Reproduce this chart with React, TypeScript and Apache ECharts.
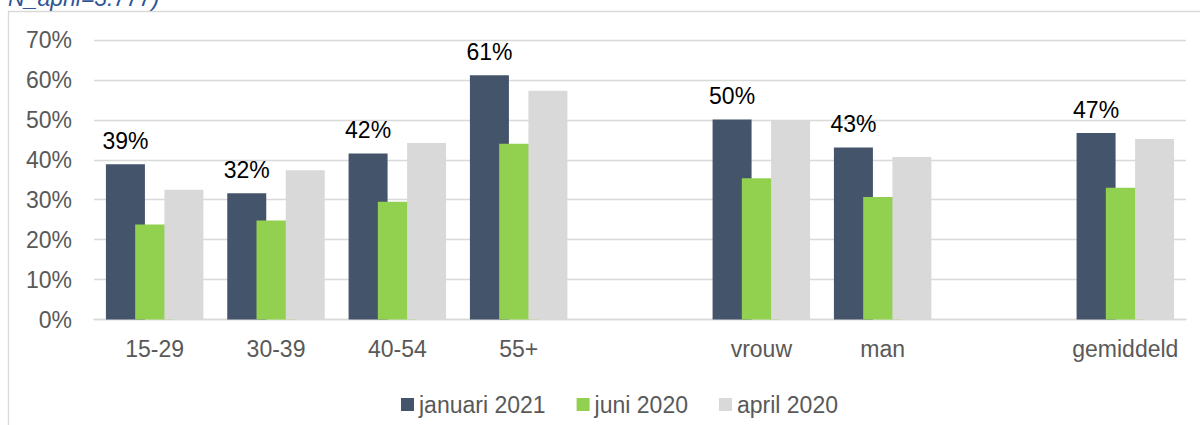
import React, { useEffect, useRef } from "react";
import * as echarts from "echarts";

const categories = ["15-29", "30-39", "40-54", "55+", "", "vrouw", "man", "", "gemiddeld"];
const januari2021 = [38.9, 31.6, 41.6, 61.2, null, 50.1, 43.1, null, 46.7];
const juni2020 = [23.8, 24.8, 29.5, 44.0, null, 35.4, 30.7, null, 33.0];
const april2020 = [32.5, 37.4, 44.2, 57.3, null, 49.7, 40.7, null, 45.2];
const seriesNames = ["januari 2021", "juni 2020", "april 2020"];
const yTicks = [0, 10, 20, 30, 40, 50, 60, 70];
const noteText = "N_april=3.777)";

const FONT = "Liberation Sans, Arial, sans-serif";

export default function App() {
  const ref = useRef<HTMLDivElement>(null);
  useEffect(() => {
    if (!ref.current) return;
    const chart = echarts.init(ref.current, null, { renderer: "svg" });
    const barCommon = {
      type: "bar",
      barWidth: 39,
      barGap: "-25%",
    };
    chart.setOption({
      animation: false,
      textStyle: { fontFamily: FONT },
      grid: { left: 94, right: 14, top: 40, bottom: 105.5, containLabel: false },
      legend: {
        data: seriesNames,
        left: 396,
        top: 388,
        itemWidth: 13,
        itemHeight: 13,
        itemGap: 31,
        icon: "rect",
        textStyle: { fontSize: 23, color: "#595959", fontFamily: FONT },
      },
      xAxis: {
        type: "category",
        data: categories,
        axisLine: { show: true, lineStyle: { color: "#D9D9D9", width: 1.3 } },
        axisTick: { show: false },
        axisLabel: { color: "#595959", fontSize: 23, margin: 18, fontFamily: FONT, interval: 0 },
        splitLine: { show: false },
      },
      yAxis: {
        type: "value",
        min: yTicks[0],
        max: yTicks[yTicks.length - 1],
        interval: 10,
        axisLine: { show: false },
        axisTick: { show: false },
        axisLabel: {
          color: "#595959",
          fontSize: 23,
          margin: 22,
          fontFamily: FONT,
          formatter: (v: number) => `${v}%`,
        },
        splitLine: { lineStyle: { color: "#D9D9D9", width: 1.3 } },
      },
      series: [
        {
          ...barCommon,
          name: seriesNames[0],
          data: januari2021,
          itemStyle: { color: "#44546A" },
          label: {
            show: true,
            position: "top",
            distance: 12,
            color: "#000000",
            fontSize: 23,
            fontFamily: FONT,
            formatter: (p: any) => `${Math.round(p.value)}%`,
          },
        },
        {
          ...barCommon,
          name: seriesNames[1],
          data: juni2020,
          itemStyle: { color: "#92D050" },
        },
        {
          ...barCommon,
          name: seriesNames[2],
          data: april2020,
          itemStyle: { color: "#D9D9D9" },
        },
      ],
      graphic: [
        {
          type: "rect",
          shape: { x: 8.5, y: 11.5, width: 1400, height: 600 },
          style: { fill: "none", stroke: "#D9D9D9", lineWidth: 1.3 },
          silent: true,
          z: -10,
        },
        {
          type: "text",
          x: 8,
          y: -2,
          style: {
            text: noteText,
            fill: "#2F5597",
            font: `italic 23px ${FONT}`,
            textVerticalAlign: "middle",
            verticalAlign: "middle",
          },
        },
      ],
    });
    return () => chart.dispose();
  }, []);
  return (
    <div
      ref={ref}
      style={{ position: "fixed", left: 0, top: 0, width: 1200, height: 425, background: "#fff" }}
    />
  );
}
